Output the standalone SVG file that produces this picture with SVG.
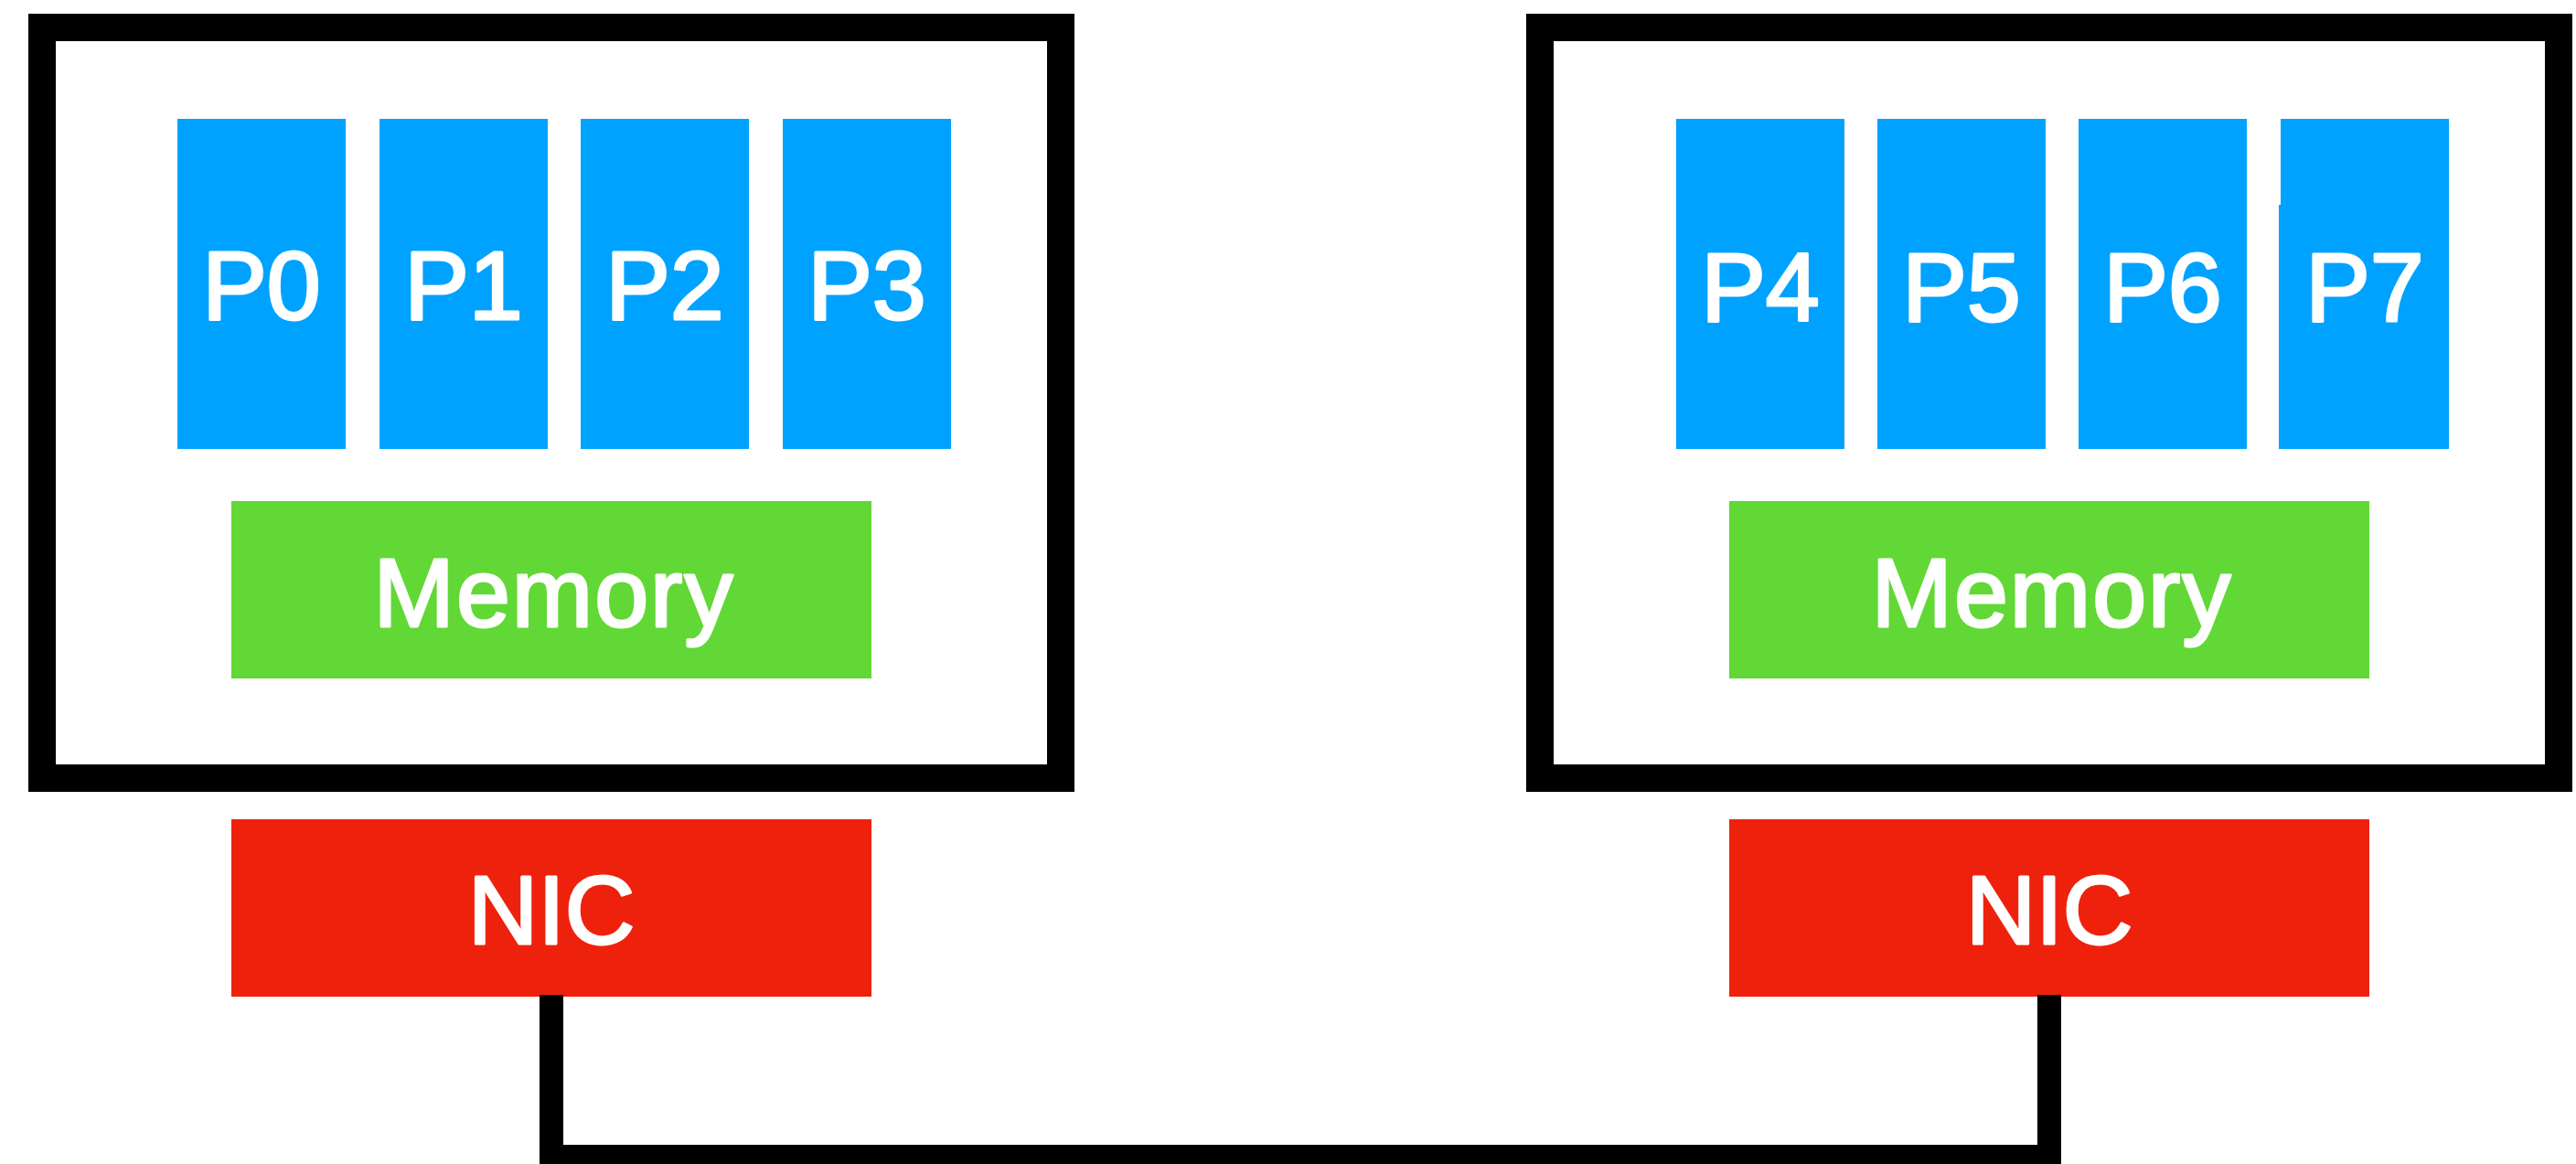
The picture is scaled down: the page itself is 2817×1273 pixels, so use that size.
<svg xmlns="http://www.w3.org/2000/svg" width="2817" height="1273" viewBox="0 0 2817 1273">
  <style>
    .frame { fill: none; stroke: #000000; stroke-width: 30; }
    .proc { fill: #00A2FF; }
    .mem { fill: #61D836; }
    .nic { fill: #EE220C; }
    .label { font-family: "Liberation Sans", Arial, Helvetica, sans-serif; font-size: 106px; fill: #FFFFFF; stroke: #FFFFFF; stroke-width: 3; stroke-linejoin: round; text-anchor: middle; }
    .wide { letter-spacing: 2px; }
    .link { fill: none; stroke: #000000; stroke-width: 26; stroke-linejoin: miter; stroke-linecap: butt; }
  </style>
  <rect width="2817" height="1273" fill="#FFFFFF"/>

  <!-- Host A -->
  <g id="host-a">
    <rect class="frame" x="46" y="30" width="1114" height="821"/>
  </g>
  <g id="p0">
    <rect class="proc" x="194" y="130" width="184" height="361"/>
    <text class="label" x="286" y="349">P0</text>
  </g>
  <g id="p1">
    <rect class="proc" x="415" y="130" width="184" height="361"/>
    <text class="label" x="507" y="349">P1</text>
  </g>
  <g id="p2">
    <rect class="proc" x="635" y="130" width="184" height="361"/>
    <text class="label" x="727" y="349">P2</text>
  </g>
  <g id="p3">
    <rect class="proc" x="856" y="130" width="184" height="361"/>
    <text class="label" x="948" y="349">P3</text>
  </g>
  <g id="memory-a">
    <rect class="mem" x="253" y="548" width="700" height="194"/>
    <text class="label wide" x="606" y="685">Memory</text>
  </g>
  <g id="nic-a">
    <rect class="nic" x="253" y="896" width="700" height="194"/>
    <text class="label" x="603" y="1032">NIC</text>
  </g>

  <!-- Host B -->
  <g id="host-b">
    <rect class="frame" x="1684" y="30" width="1114" height="821"/>
  </g>
  <g id="p4">
    <rect class="proc" x="1833" y="130" width="184" height="361"/>
    <text class="label" x="1925" y="351">P4</text>
  </g>
  <g id="p5">
    <rect class="proc" x="2053" y="130" width="184" height="361"/>
    <text class="label" x="2145" y="351">P5</text>
  </g>
  <g id="p6">
    <rect class="proc" x="2273" y="130" width="184" height="361"/>
    <text class="label" x="2365" y="351">P6</text>
  </g>
  <g id="p7">
    <path class="proc" d="M2494,130 H2678 V491 H2492 V224 H2494 Z"/>
    <text class="label" x="2586" y="351">P7</text>
  </g>
  <g id="memory-b">
    <rect class="mem" x="1891" y="548" width="700" height="194"/>
    <text class="label wide" x="2244" y="685">Memory</text>
  </g>
  <g id="nic-b">
    <rect class="nic" x="1891" y="896" width="700" height="194"/>
    <text class="label" x="2241" y="1032">NIC</text>
  </g>

  <!-- Network link between the two NICs -->
  <g id="connectors">
    <path class="link" d="M603,1088 V1265 H2241 V1088"/>
  </g>
</svg>
